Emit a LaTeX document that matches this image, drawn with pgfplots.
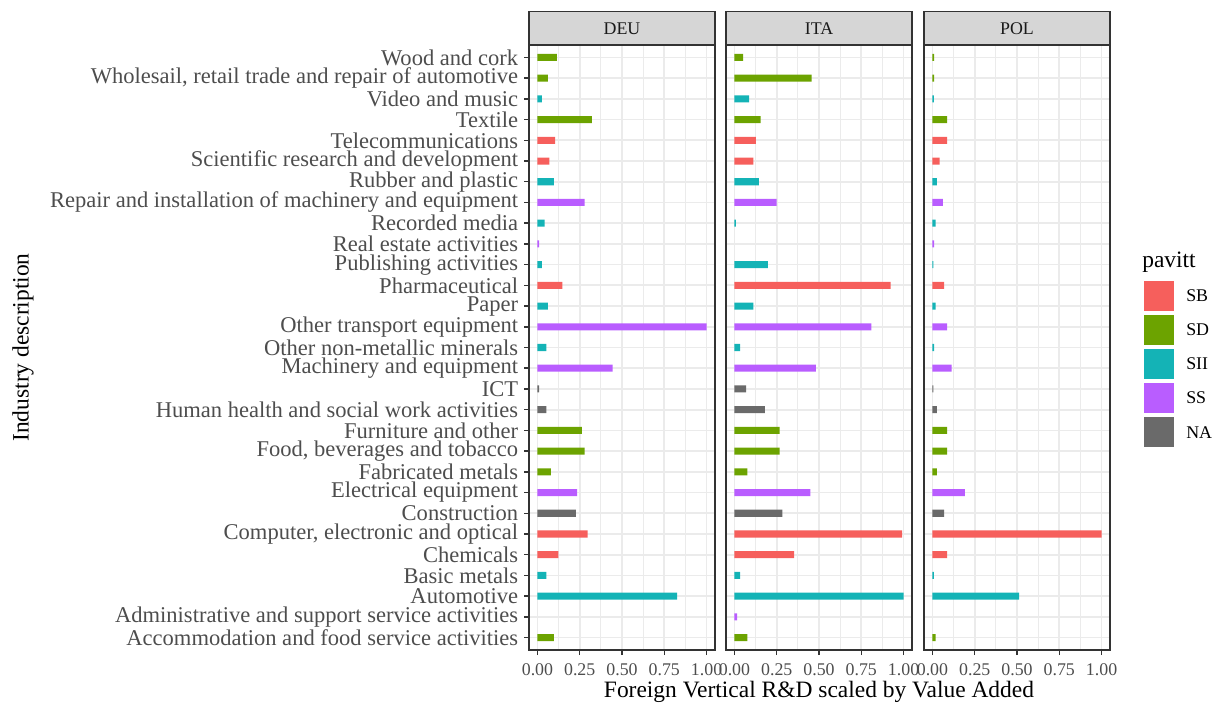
\documentclass[border=0pt]{standalone}
\usepackage{fontspec}
\setmainfont{Liberation Serif}
\usepackage{pgfplots}
\pgfplotsset{compat=1.18}

% pavitt class colours
\definecolor{cSB}{HTML}{F65F5C}
\definecolor{cSD}{HTML}{6CA300}
\definecolor{cSII}{HTML}{14B3B6}
\definecolor{cSS}{HTML}{B95DFF}
\definecolor{cNA}{HTML}{6A6A6A}
\definecolor{grid92}{HTML}{EBEBEB}
\definecolor{grey20}{HTML}{333333}
\definecolor{grey30}{HTML}{4D4D4D}
\definecolor{grey10}{HTML}{1A1A1A}
\definecolor{stripfill}{HTML}{D6D6D6}

\newcommand{\smallfont}{\fontsize{13.4pt}{15pt}\selectfont}
\newcommand{\labfont}{\fontsize{16.9pt}{18pt}\selectfont}
\newcommand{\titlefont}{\fontsize{17.6pt}{19pt}\selectfont}

\pgfplotsset{
  panel/.style={
    scale only axis, width=139.5pt, height=453.75pt,
    anchor=north west,
    xmin=-0.05, xmax=1.05, ymin=0.4, ymax=29.6, y dir=reverse,
    xtick={0,0.25,0.5,0.75,1},
    xticklabels={0.00,0.25,0.50,0.75,1.00},
    minor xtick={0.125,0.375,0.625,0.875},
    ytick={1,...,29},
    xmajorgrids=true, ymajorgrids=true, xminorgrids=true,
    major grid style={grid92, line width=1.3pt},
    minor grid style={grid92, line width=0.7pt},
    axis line style={grey20, line width=1.1pt},
    tick align=outside, major tick length=3.75pt, minor tick length=0pt,
    tick style={grey20, line width=1.1pt},
    xtick pos=lower, ytick pos=left,
    x tick label style={font=\smallfont, text=grey30, inner sep=0pt, anchor=north, yshift=-6pt},
    xbar, bar width=0.34, bar shift=0pt,
  },
}

\begin{document}
\begin{tikzpicture}
\useasboundingbox (0,0) rectangle (914.25pt,-528.75pt);

% ---------------- DEU ----------------
\begin{axis}[panel, at={(396.75pt,-33.75pt)},
  y tick label style={font=\labfont, text=grey30, inner sep=0pt, anchor=east, xshift=-4.2pt},
  yticklabels={Wood and cork,
    {Wholesail, retail trade and repair of automotive},
    Video and music, Textile, Telecommunications,
    Scientific research and development, Rubber and plastic,
    Repair and installation of machinery and equipment,
    Recorded media, Real estate activities, Publishing activities,
    Pharmaceutical, Paper, Other transport equipment,
    Other non-metallic minerals, Machinery and equipment, ICT,
    Human health and social work activities, Furniture and other,
    {Food, beverages and tobacco}, Fabricated metals,
    Electrical equipment, Construction,
    {Computer, electronic and optical}, Chemicals, Basic metals,
    Automotive, Administrative and support service activities,
    Accommodation and food service activities}]
\addplot[fill=cSB, draw=none] coordinates {(0.105,5) (0.071,6) (0.148,12) (0.296,24) (0.123,25)};
\addplot[fill=cSD, draw=none] coordinates {(0.115,1) (0.061,2) (0.322,4) (0.263,19) (0.279,20) (0.079,21) (0.097,29)};
\addplot[fill=cSII, draw=none] coordinates {(0.026,3) (0.097,7) (0.043,9) (0.026,11) (0.061,13) (0.053,15) (0.053,26) (0.826,27)};
\addplot[fill=cSS, draw=none] coordinates {(0.279,8) (0.010,10) (1.000,14) (0.445,16) (0.235,22)};
\addplot[fill=cNA, draw=none] coordinates {(0.010,17) (0.053,18) (0.227,23)};
\end{axis}

% ---------------- ITA ----------------
\begin{axis}[panel, at={(544.5pt,-33.75pt)}, yticklabels={}, y tick style={draw=none}]
\addplot[fill=cSB, draw=none] coordinates {(0.127,5) (0.112,6) (0.924,12) (0.992,24) (0.353,25)};
\addplot[fill=cSD, draw=none] coordinates {(0.051,1) (0.457,2) (0.155,4) (0.267,19) (0.267,20) (0.076,21) (0.076,29)};
\addplot[fill=cSII, draw=none] coordinates {(0.086,3) (0.145,7) (0.008,9) (0.198,11) (0.112,13) (0.033,15) (0.033,26) (1.000,27)};
\addplot[fill=cSS, draw=none] coordinates {(0.249,8) (0.810,14) (0.482,16) (0.449,22) (0.016,28)};
\addplot[fill=cNA, draw=none] coordinates {(0.069,17) (0.180,18) (0.284,23)};
\end{axis}

% ---------------- POL ----------------
\begin{axis}[panel, at={(693pt,-33.75pt)}, yticklabels={}, y tick style={draw=none}]
\addplot[fill=cSB, draw=none] coordinates {(0.087,5) (0.043,6) (0.069,12) (1.000,24) (0.087,25)};
\addplot[fill=cSD, draw=none] coordinates {(0.010,1) (0.010,2) (0.087,4) (0.087,19) (0.087,20) (0.026,21) (0.018,29)};
\addplot[fill=cSII, draw=none] coordinates {(0.008,3) (0.026,7) (0.018,9) (0.005,11) (0.018,13) (0.010,15) (0.008,26) (0.513,27)};
\addplot[fill=cSS, draw=none] coordinates {(0.061,8) (0.010,10) (0.087,14) (0.114,16) (0.191,22)};
\addplot[fill=cNA, draw=none] coordinates {(0.005,17) (0.026,18) (0.069,23)};
\end{axis}

% facet strips
\foreach \xl/\lab in {396.75/DEU, 544.5/ITA, 693/POL}{
  \draw[grey20, line width=1.1pt, fill=stripfill] (\xl pt,-8.8pt) rectangle ++(139.5pt,-24.95pt);
  \node[text=grey10, font=\smallfont] at (\xl pt+69.75pt,-21.3pt) {\lab};
}

% axis titles
\node[font=\titlefont, anchor=center] at (614.25pt,-519pt) {Foreign Vertical R\&D scaled by Value Added};
\node[font=\titlefont, rotate=90, anchor=center] at (17.25pt,-260.6pt) {Industry description};

% legend
\node[font=\titlefont, anchor=base west, inner sep=0pt] at (856.5pt,-201pt) {pavitt};
\foreach \c/\lab [count=\i from 0] in {cSB/SB, cSD/SD, cSII/SII, cSS/SS, cNA/NA}{
  \fill[\c, draw=white, line width=0.6pt] (857.25pt,-210.5pt-\i*25.5pt) rectangle ++(23.25pt,-23.25pt);
  \node[font=\smallfont, anchor=west, inner sep=0pt] at (889.5pt,-222.1pt-\i*25.5pt) {\lab};
}
\end{tikzpicture}
\end{document}
